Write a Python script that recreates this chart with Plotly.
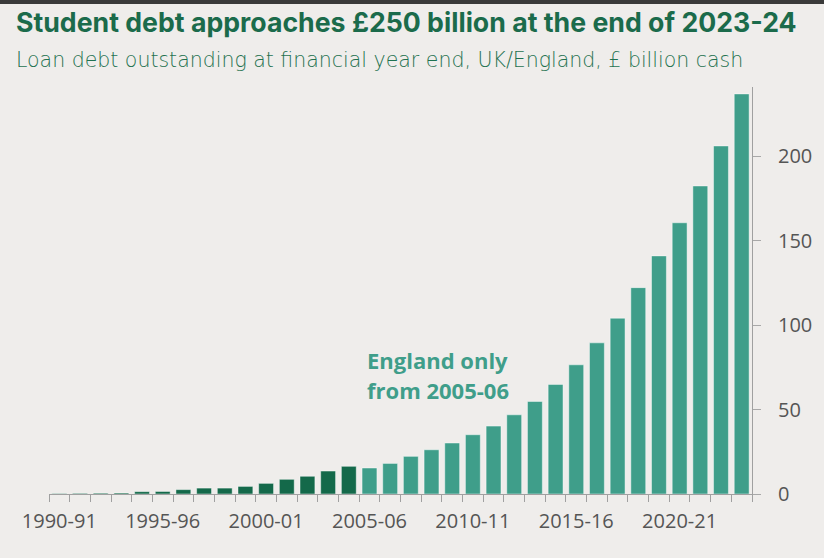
import plotly.graph_objects as go

# financial years, UK up to 2004-05, England only from 2005-06
years = [
    "1990-91", "1991-92", "1992-93", "1993-94", "1994-95", "1995-96",
    "1996-97", "1997-98", "1998-99", "1999-00", "2000-01", "2001-02",
    "2002-03", "2003-04", "2004-05", "2005-06", "2006-07", "2007-08",
    "2008-09", "2009-10", "2010-11", "2011-12", "2012-13", "2013-14",
    "2014-15", "2015-16", "2016-17", "2017-18", "2018-19", "2019-20",
    "2020-21", "2021-22", "2022-23", "2023-24",
]
# loan debt outstanding, £ billion cash
debt = [
    0.3, 0.4, 0.5, 0.6, 1.4, 1.5,
    2.6, 3.5, 3.5, 4.5, 6.3, 8.7,
    10.5, 13.6, 16.4, 15.4, 18.1, 22.3,
    26.2, 30.2, 35.1, 40.2, 46.9, 54.8,
    64.9, 76.5, 89.5, 104.1, 122.2, 141.0,
    160.6, 182.4, 206.1, 236.9,
]
split_year = "2005-06"
label_years = ["1990-91", "1995-96", "2000-01", "2005-06", "2010-11", "2015-16", "2020-21"]
y_ticks = [0, 50, 100, 150, 200]

UK_GREEN = "#14694a"
ENG_TEAL = "#3f9e8a"
BG = "#efedeb"

split = years.index(split_year)
xs = list(range(len(years)))
colours = [UK_GREEN if i < split else ENG_TEAL for i in xs]

fig = go.Figure(go.Bar(
    x=xs,
    y=debt,
    marker=dict(color=colours, line=dict(color="rgba(255,255,255,0.45)", width=1)),
    hovertext=years,
))

W, H = 824, 558
L, R, T, B = 49, 72, 87, 64
ph = H - T - B
pw = W - L - R


def py(pix):
    # pixel row -> paper y
    return (H - B - pix) / ph


def px(pix):
    return (pix - L) / pw


fig.update_layout(
    width=W, height=H,
    margin=dict(l=L, r=R, t=T, b=B, pad=0),
    paper_bgcolor=BG, plot_bgcolor=BG,
    bargap=0.28,
    showlegend=False,
    font=dict(family="Open Sans", size=20, color="#555555"),
    xaxis=dict(
        range=[-0.5, len(years) - 0.5],
        tickvals=[years.index(y) for y in label_years],
        ticktext=label_years,
        ticks="",
        showgrid=False, zeroline=False,
        showline=True, linecolor="#a0a0a0", linewidth=1,
        ticklabelstandoff=9,
        minor=dict(tick0=-0.5, dtick=1, ticks="outside", ticklen=7,
                   tickcolor="#a0a0a0", tickwidth=1, showgrid=False),
    ),
    yaxis=dict(
        side="right",
        range=[0, 241],
        tickvals=y_ticks,
        ticks="outside", ticklen=8, tickcolor="#a8a8a8", tickwidth=1,
        showgrid=False, zeroline=False,
        showline=True, linecolor="#a0a0a0", linewidth=1,
        ticklabelstandoff=13,
    ),
    shapes=[dict(
        type="rect", xref="paper", yref="paper",
        x0=px(0), x1=px(W), y0=py(3.5), y1=py(0),
        fillcolor="#3a3a3a", line=dict(color="#3a3a3a", width=1), layer="above",
    )],
    annotations=[
        dict(
            text="<b>Student debt approaches £250 billion at the end of 2023-24</b>",
            xref="paper", yref="paper", x=px(14), y=py(22),
            xanchor="left", yanchor="middle", showarrow=False,
            font=dict(family="Inter", size=26.7, color="#1b6b4b"),
        ),
        dict(
            text="Loan debt outstanding at financial year end, UK/England, £ billion cash",
            xref="paper", yref="paper", x=px(14), y=py(60),
            xanchor="left", yanchor="middle", showarrow=False,
            font=dict(family="DejaVu Sans", size=20.5, color="#1f7250", weight=200),
        ),
        dict(
            text="<b>England only</b>",
            xref="x", yref="y", x=split, y=79.5, xshift=-4,
            xanchor="left", yanchor="middle", showarrow=False,
            font=dict(family="Open Sans", size=22, color=ENG_TEAL),
        ),
        dict(
            text="<b>from 2005-06</b>",
            xref="x", yref="y", x=split, y=61.5, xshift=-4,
            xanchor="left", yanchor="middle", showarrow=False,
            font=dict(family="Open Sans", size=22, color=ENG_TEAL),
        ),
    ],
)

fig.write_html(
    "out.html",
    config={"displayModeBar": False},
    post_script="document.body.style.margin='0';document.body.style.background='%s';" % BG,
)
